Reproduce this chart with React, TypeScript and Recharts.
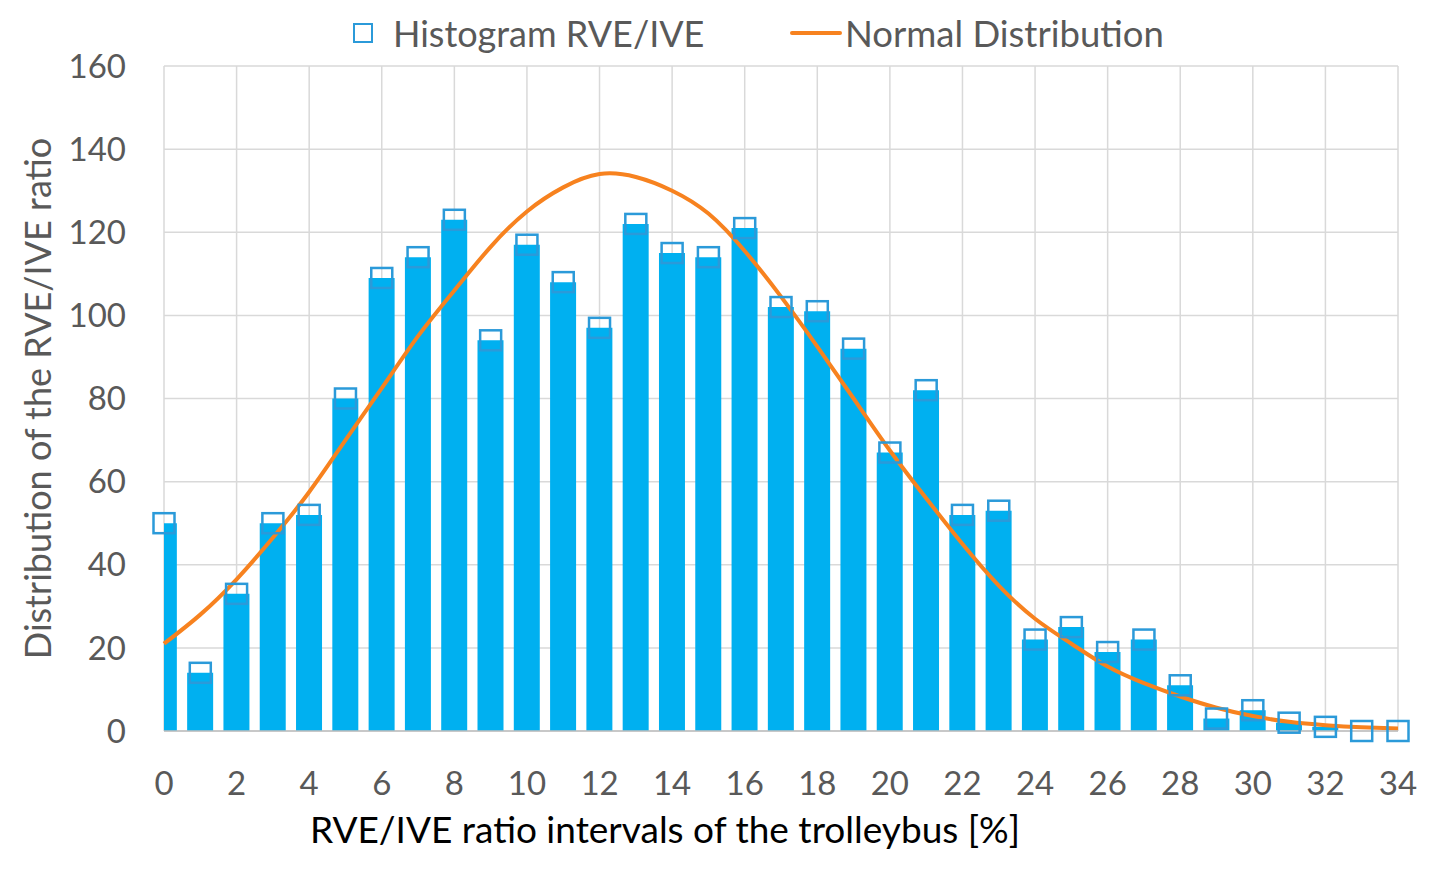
import { ComposedChart, Bar, Line, XAxis, YAxis, CartesianGrid, Label } from "recharts"

// RVE/IVE ratio interval (x) and counts
const intervals = [
  0, 1, 2, 3, 4, 5, 6, 7, 8, 9, 10, 11, 12, 13, 14, 15, 16, 17, 18, 19, 20, 21, 22, 23, 24, 25, 26, 27, 28, 29, 30,
  31, 32, 33, 34,
]
const histogram = [
  50, 14, 33, 50, 52, 80, 109, 114, 123, 94, 117, 108, 97, 122, 115, 114, 121, 102, 101, 92, 67, 82, 52, 53, 22, 25,
  19, 22, 11, 3, 5, 2, 1, 0, 0,
]
const normalCurve = [
  21, 28, 36.5, 46.5, 57.5, 70, 82.5, 95, 106, 116.5, 125, 130.8, 134, 133.3, 130, 124.5, 115.5, 104.5, 92.5, 80, 67.5,
  56, 45, 35, 27, 21, 15.5, 11.5, 8.3, 5.6, 3.6, 2.2, 1.4, 0.9, 0.6,
]
const xTicks = [0, 2, 4, 6, 8, 10, 12, 14, 16, 18, 20, 22, 24, 26, 28, 30, 32, 34]
const yTicks = [0, 20, 40, 60, 80, 100, 120, 140, 160]

const data = intervals.map((x, i) => ({ x, count: histogram[i], normal: normalCurve[i] }))

const font = "Lato, 'Open Sans', sans-serif"
const barBlue = "#00B0F0"
const markerBlue = "#2B9AD9"
const orange = "#F7821F"
const grey = "#595959"

function SquareMarker(props: any) {
  const { cx, cy, index } = props
  if (cx == null || cy == null) return null
  return (
    <rect
      key={`sq-${index}`}
      x={cx - 10.5}
      y={cy - 10}
      width={21}
      height={20}
      fill="none"
      stroke={markerBlue}
      strokeWidth={2.5}
    />
  )
}

function YLabel(props: any) {
  const { viewBox } = props
  const cx = viewBox.x + 37
  const cy = viewBox.y + viewBox.height / 2
  return (
    <text
      x={cx}
      y={cy}
      transform={`rotate(-90 ${cx} ${cy})`}
      textAnchor="middle"
      dominantBaseline="central"
      fill={grey}
      fontSize={36}
      fontFamily={font}
    >
      Distribution of the RVE/IVE ratio
    </text>
  )
}

export default function App() {
  return (
    <div style={{ position: "relative", width: 1437, height: 870, fontFamily: font, background: "#fff" }}>
      <style>{"body{margin:0}"}</style>
      <ComposedChart width={1437} height={870} data={data} margin={{ top: 66, right: 39, bottom: 0, left: 0 }}>
        <CartesianGrid xAxisId="main" stroke="#D9D9D9" strokeWidth={1.5} />
        <XAxis
          xAxisId="main"
          dataKey="x"
          type="number"
          domain={[0, 34]}
          ticks={xTicks}
          interval={0}
          height={139}
          tickLine={false}
          axisLine={{ stroke: "#BFBFBF", strokeWidth: 1.5 }}
          tickMargin={35}
          tick={{ fill: grey, fontSize: 33, fontFamily: font }}
        >
          <Label
            value="RVE/IVE ratio intervals of the trolleybus [%]"
            position="insideBottom"
            offset={27}
            dx={-116}
            fill="#000"
            fontSize={37}
            fontFamily={font}
          />
        </XAxis>
        <XAxis xAxisId="bars" dataKey="x" type="number" domain={[0, 34]} allowDataOverflow hide height={0} />
        <YAxis
          type="number"
          domain={[0, 160]}
          ticks={yTicks}
          interval={0}
          width={164}
          axisLine={false}
          tickLine={false}
          tickMargin={32}
          tick={{ fill: grey, fontSize: 33, fontFamily: font }}
        >
          <Label content={YLabel} />
        </YAxis>
        <Bar xAxisId="bars" dataKey="count" fill={barBlue} barSize={26} isAnimationActive={false} />
        <Line
          xAxisId="main"
          dataKey="count"
          stroke="none"
          dot={SquareMarker}
          activeDot={false}
          isAnimationActive={false}
        />
        <Line
          xAxisId="main"
          dataKey="normal"
          type="natural"
          stroke={orange}
          strokeWidth={4}
          dot={false}
          activeDot={false}
          isAnimationActive={false}
        />
      </ComposedChart>

      {/* legend */}
      <div style={{ position: "absolute", left: 353, top: 23, width: 16, height: 16, border: `2.5px solid ${markerBlue}` }} />
      <div style={{ position: "absolute", left: 393, top: 12, lineHeight: "42px", fontSize: 36, color: grey }}>
        Histogram RVE/IVE
      </div>
      <div style={{ position: "absolute", left: 790, top: 31, width: 52, height: 4, borderRadius: 2, background: orange }} />
      <div style={{ position: "absolute", left: 845, top: 12, lineHeight: "42px", fontSize: 36.5, color: grey }}>
        Normal Distribution
      </div>
    </div>
  )
}
